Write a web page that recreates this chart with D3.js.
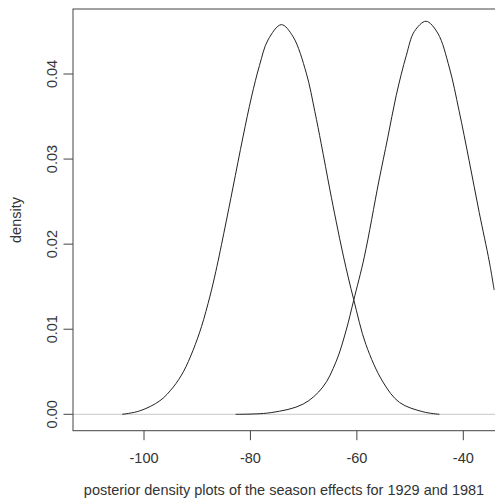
<!DOCTYPE html>
<html lang="en">
    <head>
        <meta charset="UTF-8">
        <title>posterior density plots</title>
        <script type="text/javascript" src="https://cdnjs.cloudflare.com/ajax/libs/d3/7.8.5/d3.min.js"></script>
        <style>
            html, body { margin: 0; padding: 0; background: #fff; }
            svg { display: block; }
            text { font-family: "Liberation Sans", Arial, sans-serif; fill: #333; }
        </style>
    </head>
    <body>
        <div id="svg-container"></div>
        <script type="text/javascript">
            // season effect 1929 (x, density)
            var effect1929X = [-104.1, -100.8, -97.0, -94.5, -92.6, -90.8, -89.2, -87.6, -86.5, -84.8,
                -83.3, -81.4, -79.8, -78.3, -76.7, -74.2, -72.0, -69.5, -67.9, -66.7, -65.1, -63.9,
                -62.5, -60.6, -58.3, -55.1, -52.0, -47.6, -44.5];
            var effect1929Y = [0.0000, 0.0004, 0.0016, 0.0032, 0.0050, 0.0075, 0.0103, 0.0139, 0.0168, 0.0219,
                0.0266, 0.0326, 0.0373, 0.0410, 0.0440, 0.0458, 0.0444, 0.0401, 0.0356, 0.0318, 0.0265, 0.0227,
                0.0185, 0.0135, 0.0082, 0.0038, 0.0014, 0.0003, 0.0000];

            // season effect 1981
            var effect1981X = [-82.8, -76.1, -70.1, -66.4, -63.9, -62.0, -60.6, -58.6, -55.9, -54.2, -52.6,
                -50.7, -49.2, -47.0, -44.8, -42.6, -40.8, -38.9, -37.0, -35.1, -34.2];
            var effect1981Y = [0.0000, 0.0002, 0.0012, 0.0032, 0.0062, 0.0099, 0.0134, 0.0185, 0.0273, 0.0325, 0.0375,
                0.0422, 0.0450, 0.0462, 0.0448, 0.0407, 0.0357, 0.0298, 0.0237, 0.0179, 0.0146];

            var xTicks = [-100, -80, -60, -40];
            var yTicks = [0, 0.01, 0.02, 0.03, 0.04];

            var WIDTH = 495;
            var HEIGHT = 502;
            var PLOT_LEFT = 73;
            var PLOT_TOP = 9;
            var PLOT_BOTTOM = 430.7;
            var FONT_SIZE = 14.5;

            var svg = d3.select('#svg-container').append('svg')
                .attr('width', WIDTH)
                .attr('height', HEIGHT);

            var x = d3.scaleLinear().domain([-100, -40]).range([144, 463.3]);
            var y = d3.scaleLinear().domain([0, 0.04]).range([414.3, 74]);

            svg.append('defs')
                .append('clipPath')
                .attr('id', 'plotClip')
                .append('rect')
                .attr('x', PLOT_LEFT)
                .attr('y', PLOT_TOP)
                .attr('width', WIDTH - PLOT_LEFT)
                .attr('height', PLOT_BOTTOM - PLOT_TOP);

            // zero line
            svg.append('line')
                .attr('x1', PLOT_LEFT)
                .attr('x2', WIDTH)
                .attr('y1', y(0))
                .attr('y2', y(0))
                .attr('stroke', '#c8c8c8')
                .attr('stroke-width', 1);

            // curves
            var line = d3.line()
                .x(function (d) { return x(d[0]); })
                .y(function (d) { return y(d[1]); })
                .curve(d3.curveCatmullRom.alpha(0.5));

            var curves = [d3.zip(effect1929X, effect1929Y), d3.zip(effect1981X, effect1981Y)];

            svg.append('g')
                .attr('clip-path', 'url(#plotClip)')
                .selectAll('path')
                .data(curves)
                .enter()
                .append('path')
                .attr('d', line)
                .attr('fill', 'none')
                .attr('stroke', '#222')
                .attr('stroke-width', 1);

            // box (right side falls outside the picture)
            svg.append('rect')
                .attr('x', PLOT_LEFT)
                .attr('y', PLOT_TOP)
                .attr('width', WIDTH + 20 - PLOT_LEFT)
                .attr('height', PLOT_BOTTOM - PLOT_TOP)
                .attr('fill', 'none')
                .attr('stroke', '#444')
                .attr('stroke-width', 1);

            // x axis
            var xAxis = svg.append('g');
            xAxis.selectAll('line')
                .data(xTicks)
                .enter()
                .append('line')
                .attr('x1', x)
                .attr('x2', x)
                .attr('y1', PLOT_BOTTOM)
                .attr('y2', PLOT_BOTTOM + 9.5)
                .attr('stroke', '#444');
            xAxis.selectAll('text')
                .data(xTicks)
                .enter()
                .append('text')
                .attr('x', x)
                .attr('y', 463)
                .attr('text-anchor', 'middle')
                .attr('font-size', FONT_SIZE)
                .text(function (d) { return d; });

            // y axis
            var yAxis = svg.append('g');
            yAxis.selectAll('line')
                .data(yTicks)
                .enter()
                .append('line')
                .attr('x1', PLOT_LEFT - 9.5)
                .attr('x2', PLOT_LEFT)
                .attr('y1', y)
                .attr('y2', y)
                .attr('stroke', '#444');
            yAxis.selectAll('text')
                .data(yTicks)
                .enter()
                .append('text')
                .attr('transform', function (d) { return 'translate(57,' + y(d) + ') rotate(-90)'; })
                .attr('text-anchor', 'middle')
                .attr('font-size', FONT_SIZE)
                .text(function (d) { return d3.format('.2f')(d); });

            // labels
            svg.append('text')
                .attr('transform', 'translate(21,220) rotate(-90)')
                .attr('text-anchor', 'middle')
                .attr('font-size', FONT_SIZE)
                .text('density');

            svg.append('text')
                .attr('x', 284)
                .attr('y', 495)
                .attr('text-anchor', 'middle')
                .attr('font-size', FONT_SIZE)
                .text('posterior density plots of the season effects for 1929 and 1981');
        </script>
    </body>
</html>
